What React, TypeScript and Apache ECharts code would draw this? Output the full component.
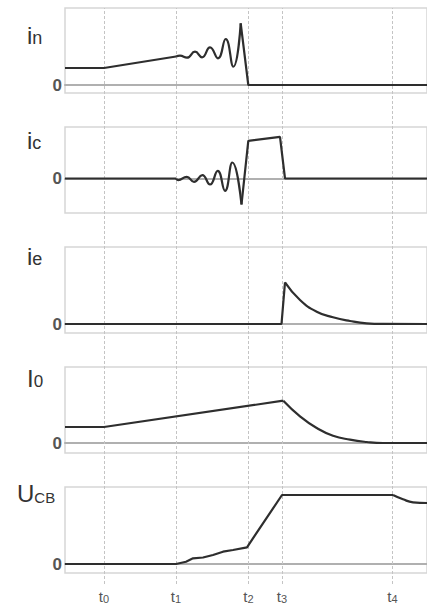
import React, { useEffect, useRef } from "react";
import * as echarts from "echarts";

const X_MAX = 362;
const T_MARKS = [39, 111, 183.5, 217, 327.5];
const T_SUBS = ["0", "1", "2", "3", "4"];

// panel 1: i_n
const inRamp = [[0, 17], [39, 17], [111, 28.5]];
const inOsc = [[111, 28.5], [115, 29.3], [122, 27.3], [130, 33.3], [137, 27.7], [145, 37.7], [153, 26.7], [160.7, 46], [168.3, 18.3], [175.7, 61.7]];
const inDrop = [[175.7, 61.7], [183.3, 0], [362, 0]];

// panel 2: i_c
const icFlat = [[0, 0], [111, 0]];
const icOsc = [[111, 0], [113.3, -1.7], [121.7, 1.7], [129, -3.3], [137.3, 3.3], [145, -6], [152.7, 7.7], [160, -12.3], [167.3, 16], [176.5, -26]];
const icPulse = [[176.5, -26], [183.3, 37.7], [215, 41.7], [220, 0], [362, 0]];

// panel 3: i_e
const ieRise = [[0, 0], [216.5, 0], [220, 41.7]];
const ieDecay = [[220, 41.7], [235, 24], [251.7, 12.3], [268, 6.7], [285, 3], [301.7, 0.7], [318, 0.1], [362, 0]];

// panel 4: I_0
const i0Ramp = [[0, 16], [39, 16], [218.3, 42.3]];
const i0Decay = [[218.3, 42.3], [235, 26.7], [251.7, 15], [268, 7.3], [285, 3.3], [301.7, 1], [318, 0], [362, 0]];

// panel 5: U_CB
const ucbRise = [[0, 0], [111, 0], [121, 2.3], [128, 5.7], [138, 6.5], [148, 9], [158, 12.3], [168, 14], [182, 16.7], [217, 69], [328, 69]];
const ucbTail = [[328, 69], [338, 64.7], [348, 61.7], [362, 61]];

const PANEL_LABELS = [
  { main: "i", sub: "n", subSize: 18 },
  { main: "i", sub: "c", subSize: 18 },
  { main: "i", sub: "e", subSize: 18 },
  { main: "I", sub: "0", subSize: 17 },
  { main: "U", sub: "CB", subSize: 15 },
];

const FONT = "'Liberation Sans', Arial, sans-serif";

export default function App() {
  const ref = useRef<HTMLDivElement>(null);
  useEffect(() => {
    if (!ref.current) return;
    const chart = echarts.init(ref.current, undefined, { renderer: "svg" });

    const panels = [
      { top: 8, height: 85, min: -8, max: 77, series: [{ d: inRamp }, { d: inOsc, s: 0.5 }, { d: inDrop }] },
      { top: 127, height: 86, min: -34.5, max: 51.5, series: [{ d: icFlat }, { d: icOsc, s: 0.5 }, { d: icPulse }] },
      { top: 247, height: 86, min: -9, max: 77, series: [{ d: ieRise }, { d: ieDecay, s: 0.5 }] },
      { top: 367, height: 86, min: -10, max: 76, series: [{ d: i0Ramp }, { d: i0Decay, s: 0.5 }] },
      { top: 487, height: 86, min: -9, max: 77, series: [{ d: ucbRise }, { d: ucbTail, s: 0.5 }] },
    ];

    const grid: any[] = [];
    const xAxis: any[] = [];
    const yAxis: any[] = [];
    const series: any[] = [];

    panels.forEach((p, i) => {
      grid.push({
        left: 65, right: -2, top: p.top, height: p.height,
        show: true, borderColor: "#d6d6d6", borderWidth: 1.5, backgroundColor: "transparent",
      });
      xAxis.push({
        type: "value", gridIndex: i, min: 0, max: X_MAX,
        axisLine: { show: true, onZero: true, lineStyle: { color: "#b0b0b0", width: 2 } },
        axisTick: { show: false }, axisLabel: { show: false }, splitLine: { show: false },
      });
      yAxis.push({
        type: "value", gridIndex: i, min: p.min, max: p.max,
        axisLine: { show: false }, axisTick: { show: false }, splitLine: { show: false },
        axisLabel: {
          show: true, margin: 3, color: "#555", fontSize: 17, fontWeight: "bold", fontFamily: FONT,
          showMinLabel: false, showMaxLabel: false,
          formatter: (v: number) => (v === 0 ? "0" : ""),
        },
      });
      p.series.forEach((s) => {
        series.push({
          type: "line", xAxisIndex: i, yAxisIndex: i, data: s.d,
          smooth: s.s ? s.s : false, symbol: "none", z: 5,
          lineStyle: { color: "#2e2e2e", width: 2.2 },
        });
      });
    });

    // background grid for the time markers
    grid.push({ left: 65, right: -2, top: 8, bottom: 21, show: false });
    xAxis.push({ type: "value", gridIndex: 5, min: 0, max: X_MAX, show: false });
    yAxis.push({ type: "value", gridIndex: 5, min: 0, max: 1, show: false });
    series.push({
      type: "line", xAxisIndex: 5, yAxisIndex: 5, data: [[0, 0]], symbol: "none",
      lineStyle: { opacity: 0 }, z: 1, silent: true,
      markLine: {
        silent: true, symbol: "none", animation: false,
        lineStyle: { color: "#c4c4c4", type: [3, 2], width: 1 },
        label: {
          show: true, position: "start", distance: 4,
          formatter: (p: any) => `{a|t}{b|${T_SUBS[p.dataIndex]}}`,
          rich: {
            a: { fontSize: 15, color: "#555", fontFamily: FONT, verticalAlign: "bottom", lineHeight: 16 },
            b: { fontSize: 11, color: "#555", fontFamily: FONT, verticalAlign: "bottom", lineHeight: 13 },
          },
        },
        data: T_MARKS.map((t) => ({ xAxis: t })),
      },
    });

    const baselines = [45, 150, 266, 388, 503];
    const lefts = [27, 27, 27, 27, 17];
    const graphic = PANEL_LABELS.map((l, i) => ({
      type: "text", left: lefts[i], top: baselines[i] - 22,
      style: {
        text: `{a|${l.main}}{b|${l.sub}}`,
        rich: {
          a: { fontSize: 24, fill: "#333", fontFamily: FONT, verticalAlign: "bottom", lineHeight: 26 },
          b: { fontSize: l.subSize, fill: "#333", fontFamily: FONT, verticalAlign: "bottom", lineHeight: 26 },
        },
      },
    }));

    chart.setOption({ animation: false, grid, xAxis, yAxis, series, graphic });
    return () => chart.dispose();
  }, []);

  return <div ref={ref} style={{ position: "fixed", left: 0, top: 0, width: 427, height: 605, background: "#fff" }} />;
}
